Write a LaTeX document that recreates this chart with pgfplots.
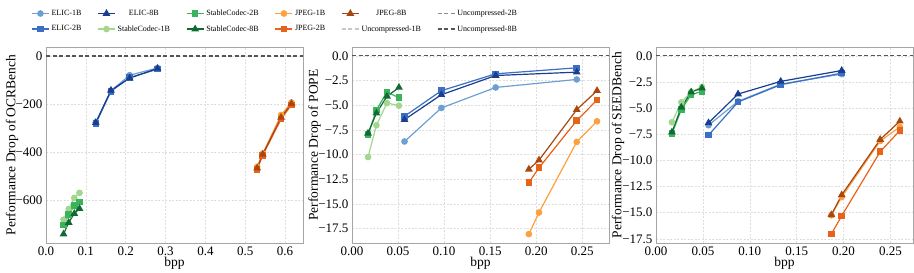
\documentclass[border=0pt]{standalone}
\usepackage{fontspec}
\setmainfont{Liberation Serif}
\usepackage{pgfplots}
\pgfplotsset{compat=1.18}
\definecolor{e1}{HTML}{6C9FD2}
\definecolor{e2}{HTML}{3A6FC4}
\definecolor{e8}{HTML}{1B3D8F}
\definecolor{s1}{HTML}{A3D68E}
\definecolor{s2}{HTML}{3AB45C}
\definecolor{s8}{HTML}{0F6B32}
\definecolor{j1}{HTML}{FCA040}
\definecolor{j2}{HTML}{E8631A}
\definecolor{j8}{HTML}{A8470E}
\definecolor{u1}{HTML}{C8C8C8}
\definecolor{u2}{HTML}{8C8C8C}
\definecolor{u8}{HTML}{555555}
\pgfplotsset{
  sE1/.style={color=e1, line width=1.2pt, mark=*, mark size=2.7pt, mark options={solid, fill=e1}},
  sE2/.style={color=e2, line width=1.2pt, mark=square*, mark size=2.7pt, mark options={solid, fill=e2}},
  sE8/.style={color=e8, line width=1.2pt, mark=triangle*, mark size=3.3pt, mark options={solid, fill=e8}},
  sS1/.style={color=s1, line width=1.2pt, mark=*, mark size=2.7pt, mark options={solid, fill=s1}},
  sS2/.style={color=s2, line width=1.2pt, mark=square*, mark size=2.7pt, mark options={solid, fill=s2}},
  sS8/.style={color=s8, line width=1.2pt, mark=triangle*, mark size=3.3pt, mark options={solid, fill=s8}},
  sJ1/.style={color=j1, line width=1.2pt, mark=*, mark size=2.7pt, mark options={solid, fill=j1}},
  sJ2/.style={color=j2, line width=1.2pt, mark=square*, mark size=2.7pt, mark options={solid, fill=j2}},
  sJ8/.style={color=j8, line width=1.2pt, mark=triangle*, mark size=3.3pt, mark options={solid, fill=j8}},
  sU1/.style={color=u1, line width=1.2pt, dash pattern=on 4pt off 2.5pt, no marks},
  sU2/.style={color=u2, line width=1.2pt, dash pattern=on 4pt off 2.5pt, no marks},
  sU8/.style={color=u8, line width=1.2pt, dash pattern=on 4pt off 2.5pt, no marks},
  base/.style={
    scale only axis, width=257pt, height=196pt, anchor=south west,
    grid=major, grid style={dash pattern=on 2pt off 1.5pt, black!13, line width=0.5pt},
    axis line style={black!35, line width=0.8pt},
    tick style={draw=none},
    tick label style={font=\fontsize{13}{15}\selectfont},
    xlabel={bpp},
    xlabel style={font=\fontsize{13.5}{15}\selectfont, at={(axis description cs:0.5,-0.105)}, anchor=center},
    clip=false,
  },
}
\begin{document}
\begin{tikzpicture}
% ---------------- OCRBench
\begin{axis}[base, at={(46pt,30pt)},
  xmin=0, xmax=0.645, ymin=-776, ymax=37,
  xtick={0,0.1,0.2,0.3,0.4,0.5,0.6}, xticklabels={0.0,0.1,0.2,0.3,0.4,0.5,0.6},
  ytick={-600,-400,-200,0}, yticklabels={−600,−400,−200,0},
  ylabel={Performance Drop of OCRBench},
  ylabel style={font=\fontsize{13.5}{15}\selectfont, at={(axis description cs:-0.132,0.5)}, rotate=0, anchor=center},
  legend columns=6,
  legend style={at={(axis description cs:-0.058,1.20)}, anchor=north west, draw=none, fill=none,
    font=\fontsize{8}{9.5}\selectfont, inner sep=0pt, row sep=4.5pt,
    /tikz/every even column/.append style={column sep=14pt}},
]
\addplot[sE1, forget plot] coordinates {(0.125,-275) (0.163,-145) (0.210,-80) (0.280,-50)};
\addplot[sE2, forget plot] coordinates {(0.125,-280) (0.163,-147) (0.210,-90) (0.280,-55)};
\addplot[sE8, forget plot] coordinates {(0.125,-277) (0.163,-143) (0.210,-92) (0.280,-52)};
\addplot[sS1, forget plot] coordinates {(0.044,-679) (0.057,-635) (0.071,-589) (0.084,-568)};
\addplot[sS2, forget plot] coordinates {(0.044,-702) (0.057,-659) (0.071,-621) (0.084,-606)};
\addplot[sS8, forget plot] coordinates {(0.044,-739) (0.057,-691) (0.071,-654) (0.084,-633)};
\addplot[sJ1, forget plot] coordinates {(0.530,-460) (0.544,-405) (0.590,-245) (0.616,-193)};
\addplot[sJ2, forget plot] coordinates {(0.530,-470) (0.544,-412) (0.590,-262) (0.616,-203)};
\addplot[sJ8, forget plot] coordinates {(0.530,-465) (0.544,-408) (0.590,-255) (0.616,-198)};
\addplot[sU1, forget plot] coordinates {(0,0) (0.645,0)};
\addplot[sU2, forget plot] coordinates {(0,0) (0.645,0)};
\addplot[sU8, forget plot] coordinates {(0,0) (0.645,0)};
% legend, row-wise
\addlegendimage{sE1}\addlegendentry{ELIC-1B}
\addlegendimage{sE8}\addlegendentry{ELIC-8B}
\addlegendimage{sS2}\addlegendentry{StableCodec-2B}
\addlegendimage{sJ1}\addlegendentry{JPEG-1B}
\addlegendimage{sJ8}\addlegendentry{JPEG-8B}
\addlegendimage{sU2}\addlegendentry{Uncompressed-2B}
\addlegendimage{sE2}\addlegendentry{ELIC-2B}
\addlegendimage{sS1}\addlegendentry{StableCodec-1B}
\addlegendimage{sS8}\addlegendentry{StableCodec-8B}
\addlegendimage{sJ2}\addlegendentry{JPEG-2B}
\addlegendimage{sU1}\addlegendentry{Uncompressed-1B}
\addlegendimage{sU8}\addlegendentry{Uncompressed-8B}
\end{axis}
% ---------------- POPE
\begin{axis}[base, at={(352pt,30pt)},
  xmin=0, xmax=0.279, ymin=-18.97, ymax=0.9,
  xtick={0,0.05,0.1,0.15,0.2,0.25}, xticklabels={0.00,0.05,0.10,0.15,0.20,0.25},
  ytick={-17.5,-15,-12.5,-10,-7.5,-5,-2.5,0}, yticklabels={−17.5,−15.0,−12.5,−10.0,−7.5,−5.0,−2.5,0.0},
  ylabel={Performance Drop of POPE},
  ylabel style={font=\fontsize{13.5}{15}\selectfont, at={(axis description cs:-0.146,0.5)}, rotate=0, anchor=center},
]
\addplot[sE1] coordinates {(0.057,-8.68) (0.097,-5.28) (0.156,-3.20) (0.244,-2.39)};
\addplot[sE2] coordinates {(0.057,-6.12) (0.097,-3.53) (0.156,-1.82) (0.244,-1.21)};
\addplot[sE8] coordinates {(0.057,-6.46) (0.097,-3.94) (0.156,-1.99) (0.244,-1.65)};
\addplot[sS1] coordinates {(0.0174,-10.26) (0.0265,-7.03) (0.038,-4.78) (0.051,-5.05)};
\addplot[sS2] coordinates {(0.0174,-8.00) (0.0265,-5.50) (0.038,-3.65) (0.051,-4.25)};
\addplot[sS8] coordinates {(0.0174,-7.85) (0.0265,-5.80) (0.038,-4.10) (0.051,-3.20)};
\addplot[sJ1] coordinates {(0.192,-18.07) (0.203,-15.88) (0.244,-8.72) (0.266,-6.63)};
\addplot[sJ2] coordinates {(0.192,-12.85) (0.203,-11.34) (0.244,-6.56) (0.266,-4.47)};
\addplot[sJ8] coordinates {(0.192,-11.50) (0.203,-10.57) (0.244,-5.45) (0.266,-3.53)};
\addplot[sU1] coordinates {(0,0) (0.279,0)};
\addplot[sU2] coordinates {(0,0) (0.279,0)};
\addplot[sU8] coordinates {(0,0) (0.279,0)};
\end{axis}
% ---------------- SEEDBench
\begin{axis}[base, at={(656pt,30pt)},
  xmin=0, xmax=0.274, ymin=-17.9, ymax=0.85,
  xtick={0,0.05,0.1,0.15,0.2,0.25}, xticklabels={0.00,0.05,0.10,0.15,0.20,0.25},
  ytick={-17.5,-15,-12.5,-10,-7.5,-5,-2.5,0}, yticklabels={−17.5,−15.0,−12.5,−10.0,−7.5,−5.0,−2.5,0.0},
  ylabel={Performance Drop of SEEDBench},
  ylabel style={font=\fontsize{13.5}{15}\selectfont, at={(axis description cs:-0.148,0.5)}, rotate=0, anchor=center},
]
\addplot[sE1] coordinates {(0.056,-6.63) (0.0875,-4.35) (0.133,-2.70) (0.198,-1.74)};
\addplot[sE2] coordinates {(0.056,-7.58) (0.0875,-4.41) (0.133,-2.76) (0.198,-1.65)};
\addplot[sE8] coordinates {(0.056,-6.41) (0.0875,-3.65) (0.133,-2.44) (0.198,-1.40)};
\addplot[sS1] coordinates {(0.017,-6.35) (0.027,-4.44) (0.0375,-3.43) (0.049,-2.98)};
\addplot[sS2] coordinates {(0.017,-7.45) (0.027,-5.14) (0.0375,-3.71) (0.049,-3.39)};
\addplot[sS8] coordinates {(0.017,-7.30) (0.027,-4.92) (0.0375,-3.46) (0.049,-3.08)};
\addplot[sJ1] coordinates {(0.187,-15.25) (0.198,-13.50) (0.239,-8.15) (0.260,-6.80)};
\addplot[sJ2] coordinates {(0.187,-17.04) (0.198,-15.30) (0.239,-9.17) (0.260,-7.14)};
\addplot[sJ8] coordinates {(0.187,-15.20) (0.198,-13.30) (0.239,-8.00) (0.260,-6.25)};
\addplot[sU1] coordinates {(0,0) (0.274,0)};
\addplot[sU2] coordinates {(0,0) (0.274,0)};
\addplot[sU8] coordinates {(0,0) (0.274,0)};
\end{axis}
\pgfresetboundingbox
\path[use as bounding box] (0pt,0pt) rectangle (914pt,273pt);
\end{tikzpicture}
\end{document}
